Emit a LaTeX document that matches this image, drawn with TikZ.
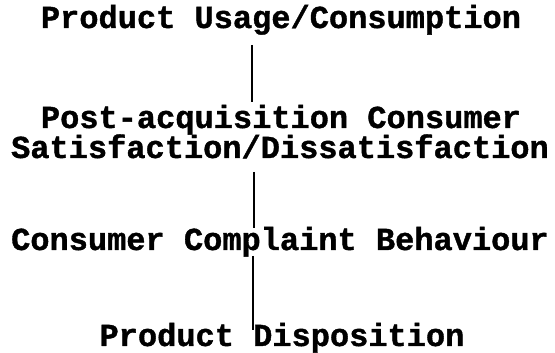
\documentclass[tikz,border=0pt]{standalone}
\usepackage{fontspec}
\newfontfamily\stagefont{Liberation Mono}[BoldFeatures={FakeBold=1.2}]
\usetikzlibrary{calc}
\begin{document}
\begin{tikzpicture}[x=1pt,y=1pt,
  stage/.style={font=\stagefont\bfseries\fontsize{32}{33}\selectfont,
                anchor=base, inner sep=0pt, text=black},
  link/.style={line width=2.8pt, draw=black}]
\useasboundingbox (0,0) rectangle (555,353);

% stages of the post-purchase process
\node[stage] (usage)       at (281,325) {Product Usage/Consumption};
\node[stage] (post)        at (281,225) {Post-acquisition Consumer};
\node[stage] (satis)       at (280,195) {Satisfaction/Dissatisfaction};
\node[stage] (complaint)   at (280,103) {Consumer Complaint Behaviour};
\node[stage] (disposition) at (282,7)   {Product Disposition};

% vertical guides for the connecting strokes
\coordinate (s1) at (252,0);
\coordinate (s2) at (254,0);
\coordinate (s3) at (253,0);

\draw[link] ($(usage.base -| s1)+(0,-17)$) -- ($(post.base -| s1)+(0,26)$);
\draw[link] ($(satis.base -| s2)+(0,-14)$) -- ($(complaint.base -| s2)+(0,22)$);
\draw[link] ($(complaint.base -| s3)+(0,-6)$) -- ($(disposition.base -| s3)+(0,16)$);
\end{tikzpicture}
\end{document}
